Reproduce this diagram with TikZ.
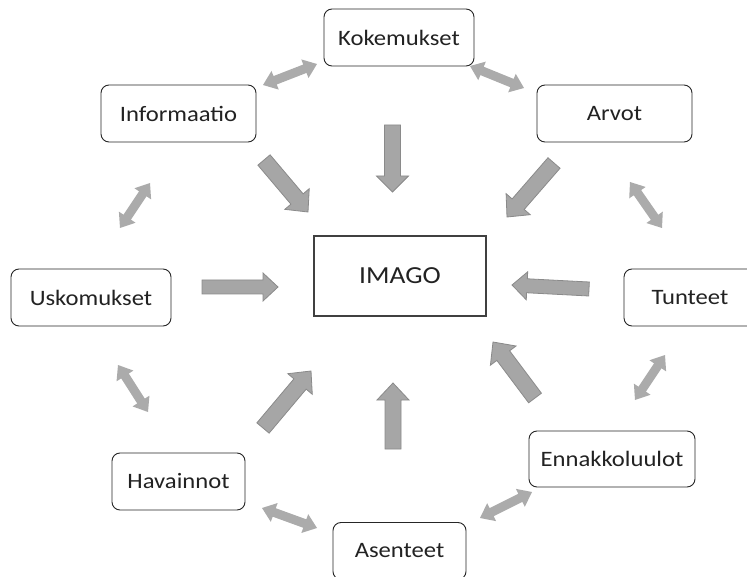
\documentclass[tikz,border=0pt]{standalone}
\usepackage{fontspec}
\setmainfont{Carlito}[FakeStretch=1.12]
\usetikzlibrary{calc}
\definecolor{arrfill}{HTML}{A6A6A6}
\definecolor{arrline}{HTML}{8A8A8A}
\definecolor{dblfill}{HTML}{ABABAB}
\definecolor{txt}{HTML}{222222}
\tikzset{
  box/.style={draw=black!85, line width=0.9pt, rounded corners=8pt, fill=white,
    minimum height=57pt, inner sep=0pt, text=txt, font=\fontsize{22}{24}\selectfont},
  centerbox/.style={draw=black!75, line width=1.1pt, fill=white, minimum width=172pt,
    minimum height=80pt, inner sep=0pt, text=txt, font=\fontsize{24.5}{26}\selectfont},
  blockarr/.style={fill=arrfill, draw=arrline, line width=0.8pt, line join=miter},
  dblarr/.style={fill=dblfill}
}
\newcommand\blockarrow[5]{%
  \coordinate (bah) at ($(#2)!#5!(#1)$);
  \filldraw[blockarr] ($(#1)!#3!90:(#2)$) -- ($(bah)!#3!90:(#2)$) -- ($(bah)!#4!90:(#2)$)
    -- (#2) -- ($(bah)!#4!-90:(#2)$) -- ($(bah)!#3!-90:(#2)$) -- ($(#1)!#3!-90:(#2)$) -- cycle;
}
\newcommand\dblarrow[5]{%
  \coordinate (dha) at ($(#1)!#5!(#2)$);
  \coordinate (dhb) at ($(#2)!#5!(#1)$);
  \fill[dblarr] (#1) -- ($(dha)!#4!90:(#2)$) -- ($(dha)!#3!90:(#2)$) -- ($(dhb)!#3!90:(#2)$)
    -- ($(dhb)!#4!90:(#2)$) -- (#2) -- ($(dhb)!#4!-90:(#2)$) -- ($(dhb)!#3!-90:(#2)$)
    -- ($(dha)!#3!-90:(#2)$) -- ($(dha)!#4!-90:(#2)$) -- cycle;
}
\begin{document}
\begin{tikzpicture}[x=1pt, y=-1pt]
\useasboundingbox (0,0) rectangle (747,577);
% nodes
\node[box, minimum width=150pt] (kok) at (399,37.5) {Kokemukset};
\node[box, minimum width=155pt] (inf) at (178.5,113.5) {Informaatio};
\node[box, minimum width=155pt] (arv) at (614.5,113.5) {Arvot};
\node[centerbox] (imago) at (400,276) {IMAGO};
\node[box, minimum width=160pt] (usk) at (91,297.5) {Uskomukset};
\node[box, minimum width=132pt] (tun) at (690,297.5) {Tunteet};
\node[box, minimum width=166pt, minimum height=56pt] (enn) at (612,459) {Ennakkoluulot};
\node[box, minimum width=133pt] (hav) at (178.5,481.5) {Havainnot};
\node[box, minimum width=133pt] (ase) at (399.5,551) {Asenteet};
% block arrow end points
\coordinate (k1) at (392.5,125); \coordinate (k2) at (392.5,192);
\coordinate (i1) at (264,160);   \coordinate (i2) at (308,212);
\coordinate (a1) at (554,163);   \coordinate (a2) at (507,217);
\coordinate (u1) at (202,287);   \coordinate (u2) at (278,287);
\coordinate (t1) at (589,289);   \coordinate (t2) at (512,285);
\coordinate (e1) at (535,398);   \coordinate (e2) at (493,342);
\coordinate (h1) at (263,428);   \coordinate (h2) at (311,371);
\coordinate (s1) at (393,449);   \coordinate (s2) at (393,383);
\blockarrow{k1}{k2}{8pt}{16pt}{16pt}
\blockarrow{i1}{i2}{8pt}{16pt}{17pt}
\blockarrow{a1}{a2}{8pt}{16pt}{17pt}
\blockarrow{u1}{u2}{7pt}{14pt}{15pt}
\blockarrow{t1}{t2}{7pt}{14pt}{15pt}
\blockarrow{e1}{e2}{8pt}{16pt}{17pt}
\blockarrow{h1}{h2}{8pt}{16pt}{17pt}
\blockarrow{s1}{s2}{8pt}{16pt}{17pt}
% double arrow end points
\coordinate (d1a) at (263,85);  \coordinate (d1b) at (317,64);
\coordinate (d2a) at (470,66);  \coordinate (d2b) at (524,88);
\coordinate (d3a) at (150,183); \coordinate (d3b) at (120,228);
\coordinate (d4a) at (630,182); \coordinate (d4b) at (662,228);
\coordinate (d5a) at (665,355); \coordinate (d5b) at (635,400);
\coordinate (d6a) at (118,365); \coordinate (d6b) at (148,412);
\coordinate (d7a) at (262,508); \coordinate (d7b) at (317,528);
\coordinate (d8a) at (480,518); \coordinate (d8b) at (532,492);
\dblarrow{d1a}{d1b}{4.5pt}{10pt}{13pt}
\dblarrow{d2a}{d2b}{4.5pt}{10pt}{13pt}
\dblarrow{d3a}{d3b}{4.5pt}{10pt}{13pt}
\dblarrow{d4a}{d4b}{4.5pt}{10pt}{13pt}
\dblarrow{d5a}{d5b}{4.5pt}{10pt}{13pt}
\dblarrow{d6a}{d6b}{4.5pt}{10pt}{13pt}
\dblarrow{d7a}{d7b}{4.5pt}{10pt}{13pt}
\dblarrow{d8a}{d8b}{4.5pt}{10pt}{13pt}
\end{tikzpicture}
\end{document}
